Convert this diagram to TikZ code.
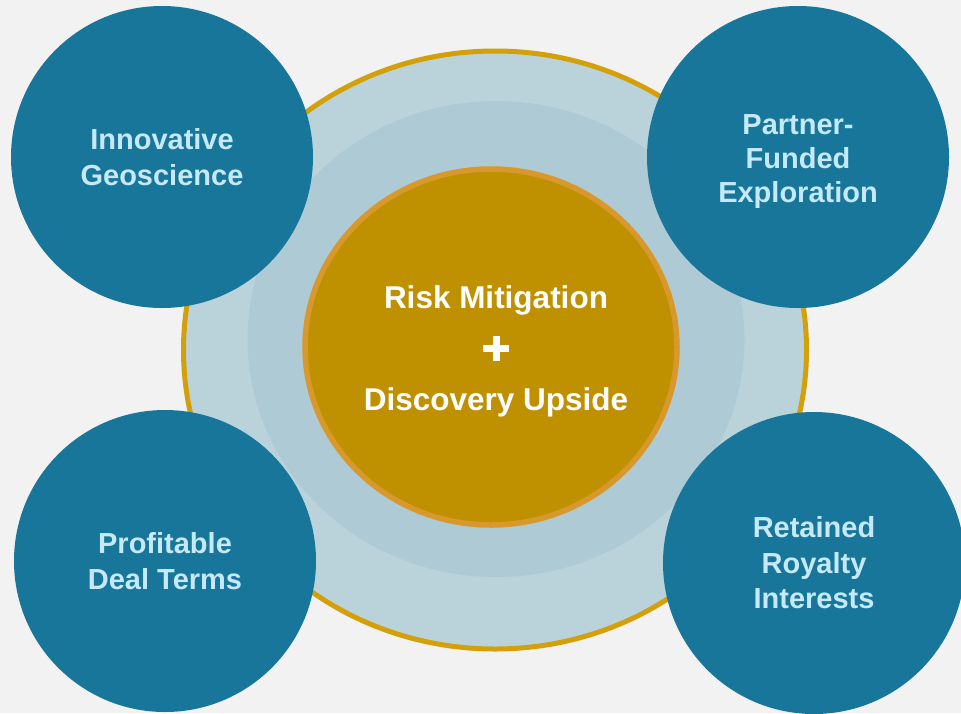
\documentclass[tikz,border=0pt]{standalone}
\usepackage{fontspec}
\setmainfont{Liberation Sans}
\definecolor{bgc}{HTML}{F2F2F2}
\definecolor{outerfill}{HTML}{BAD3DB}
\definecolor{midfill}{HTML}{AECAD4}
\definecolor{goldline}{HTML}{D4A00A}
\definecolor{innerfill}{HTML}{BF9000}
\definecolor{innerline}{HTML}{D8982C}
\definecolor{tealc}{HTML}{17769A}
\definecolor{lightt}{HTML}{C5E9F7}
\newcommand\thickplus{\mbox{\rule[7pt]{26pt}{7pt}\hspace{-16.5pt}\rule[-2pt]{7pt}{25pt}\hspace{9.5pt}}}
\tikzset{
  pillar/.style={circle, fill=tealc, minimum size=302pt, inner sep=0pt,
    text=lightt, align=center, font=\bfseries\fontsize{29}{35.5}\selectfont},
  coretext/.style={text=white, align=center, font=\bfseries\fontsize{31.5}{51}\selectfont}
}
\begin{document}
\begin{tikzpicture}[x=1pt,y=-1pt]
\fill[bgc] (0,0) rectangle (961,713);
\useasboundingbox (0,0) rectangle (961,713);
\filldraw[fill=outerfill, draw=goldline, line width=5pt] (495,350) ellipse [x radius=311.5pt, y radius=299pt];
\fill[midfill] (496,339) ellipse [x radius=248.5pt, y radius=238pt];
\filldraw[fill=innerfill, draw=innerline, line width=5.5pt] (491,347) ellipse [x radius=186pt, y radius=178pt];
\node[coretext] (core) at (496,351) {Risk Mitigation\\\thickplus\\Discovery Upside};
\node[pillar] (tl) at (162,157) {Innovative\\Geoscience};
\node[pillar] (tr) at (798,157) {\raisebox{-5pt}[\height][\depth]{\fontsize{29}{34}\selectfont\begin{tabular}{@{}c@{}}Partner-\\Funded\\Exploration\end{tabular}}};
\node[pillar] (bl) at (165,561) {Profitable\\Deal Terms};
\node[pillar] (br) at (814,563) {Retained\\Royalty\\Interests};
\end{tikzpicture}
\end{document}
